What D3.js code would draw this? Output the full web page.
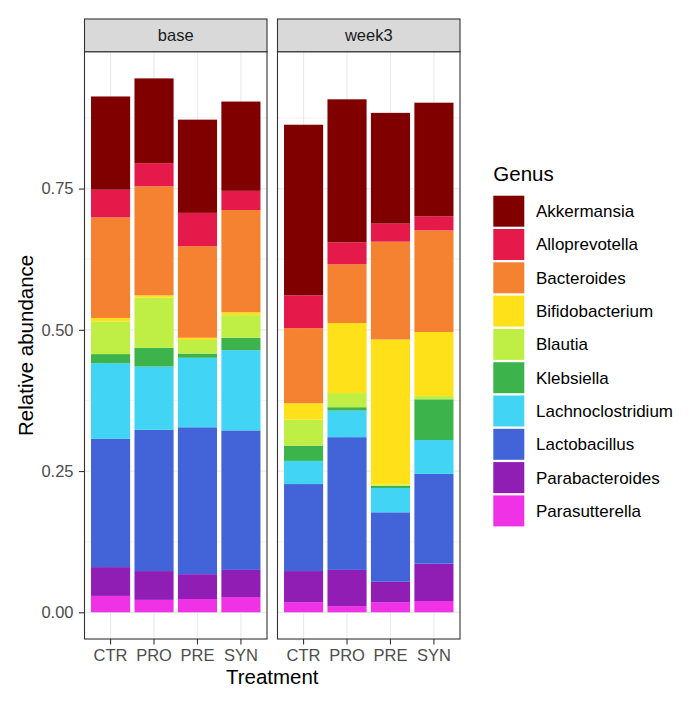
<!DOCTYPE html>
<html>
<head>
<meta charset="utf-8">
<script src="https://cdn.jsdelivr.net/npm/d3@7/dist/d3.min.js"></script>
<style>
  html, body { margin: 0; padding: 0; background: #fff; }
  svg { display: block; font-family: "Liberation Sans", Arial, Helvetica, sans-serif; }
</style>
</head>
<body>
<svg id="chart" width="692" height="703"></svg>
<script>
// ---------------- DATA ----------------
const timepoints = ["base", "week3"];
const treatments = ["CTR", "PRO", "PRE", "SYN"];
const genera = ["Akkermansia", "Alloprevotella", "Bacteroides", "Bifidobacterium", "Blautia",
                "Klebsiella", "Lachnoclostridium", "Lactobacillus", "Parabacteroides", "Parasutterella"];
const genusColors = ["#800000", "#E6194B", "#F58231", "#FFE119", "#BFEF45",
                     "#3CB44B", "#42D4F4", "#4363D8", "#911EB4", "#F032E6"];

// values: base CTR, PRO, PRE, SYN, then week3 CTR, PRO, PRE, SYN
const akkermansia       = [0.165, 0.150, 0.165, 0.158,   0.302, 0.253, 0.196, 0.201];
const alloprevotella    = [0.049, 0.041, 0.059, 0.034,   0.058, 0.039, 0.032, 0.025];
const bacteroides       = [0.178, 0.193, 0.162, 0.181,   0.133, 0.104, 0.173, 0.180];
const bifidobacterium   = [0.006, 0.004, 0.004, 0.005,   0.029, 0.124, 0.257, 0.113];
const blautia           = [0.058, 0.089, 0.024, 0.040,   0.046, 0.025, 0.002, 0.006];
const klebsiella        = [0.016, 0.033, 0.0075, 0.022,  0.027, 0.006, 0.004, 0.072];
const lachnoclostridium = [0.134, 0.112, 0.123, 0.142,   0.041, 0.047, 0.043, 0.060];
const lactobacillus     = [0.227, 0.250, 0.260, 0.247,   0.154, 0.235, 0.123, 0.159];
const parabacteroides   = [0.051, 0.051, 0.044, 0.048,   0.055, 0.064, 0.036, 0.066];
const parasutterella    = [0.029, 0.022, 0.0235, 0.027,  0.018, 0.011, 0.018, 0.020];

const yTicks = [0, 0.25, 0.5, 0.75];
const yMinorTicks = [0.125, 0.375, 0.625, 0.875];

const seriesValues = [akkermansia, alloprevotella, bacteroides, bifidobacterium, blautia,
                      klebsiella, lachnoclostridium, lactobacillus, parabacteroides, parasutterella];

// build rows per timepoint
const rows = [];
timepoints.forEach((tp, ti) => {
  treatments.forEach((tr, ri) => {
    const row = { timepoint: tp, treatment: tr };
    genera.forEach((g, gi) => { row[g] = seriesValues[gi][ti * 4 + ri]; });
    rows.push(row);
  });
});

// ---------------- LAYOUT ----------------
const svg = d3.select("#chart");
const fontSmall = 16.5, fontTitle = 20.5;
const panelTop = 51.7, panelBottom = 639, stripTop = 19;
const panels = [
  { name: "base",  x0: 84.5,  x1: 267 },
  { name: "week3", x0: 277.5, x1: 460 }
];

const totals = rows.map(r => d3.sum(genera, g => r[g]));
const maxTot = d3.max(totals);
const pad = maxTot * 0.05;
const y = d3.scaleLinear().domain([-pad, maxTot + pad]).range([panelBottom, panelTop]);

const color = d3.scaleOrdinal().domain(genera).range(genusColors);

// stack: first genus on top => stack keys in reverse
const stack = d3.stack().keys(genera.slice().reverse());

panels.forEach((p, pi) => {
  const g = svg.append("g");
  const x = d3.scaleBand().domain(treatments).range([p.x0, p.x1])
    .paddingInner(0.1).paddingOuter(0.15);

  // panel background
  g.append("rect").attr("x", p.x0).attr("y", panelTop)
    .attr("width", p.x1 - p.x0).attr("height", panelBottom - panelTop).attr("fill", "#fff");

  // minor grid
  g.selectAll(".ymin").data(yMinorTicks).enter().append("line")
    .attr("x1", p.x0).attr("x2", p.x1)
    .attr("y1", d => y(d)).attr("y2", d => y(d))
    .attr("stroke", "#EBEBEB").attr("stroke-width", 0.6);
  // major grid
  g.selectAll(".ymaj").data(yTicks).enter().append("line")
    .attr("x1", p.x0).attr("x2", p.x1)
    .attr("y1", d => y(d)).attr("y2", d => y(d))
    .attr("stroke", "#EBEBEB").attr("stroke-width", 1.2);
  g.selectAll(".xmaj").data(treatments).enter().append("line")
    .attr("x1", d => x(d) + x.bandwidth() / 2).attr("x2", d => x(d) + x.bandwidth() / 2)
    .attr("y1", panelTop).attr("y2", panelBottom)
    .attr("stroke", "#EBEBEB").attr("stroke-width", 1.2);

  // bars
  const data = rows.filter(r => r.timepoint === p.name);
  const stacked = stack(data);
  stacked.forEach(layer => {
    g.append("g").selectAll("rect").data(layer).enter().append("rect")
      .attr("x", d => x(d.data.treatment))
      .attr("width", x.bandwidth())
      .attr("y", d => y(d[1]))
      .attr("height", d => Math.max(0, y(d[0]) - y(d[1])))
      .attr("fill", color(layer.key));
  });

  // panel border
  g.append("rect").attr("x", p.x0).attr("y", panelTop)
    .attr("width", p.x1 - p.x0).attr("height", panelBottom - panelTop)
    .attr("fill", "none").attr("stroke", "#333333").attr("stroke-width", 1.1);

  // strip
  g.append("rect").attr("x", p.x0).attr("y", stripTop)
    .attr("width", p.x1 - p.x0).attr("height", panelTop - stripTop)
    .attr("fill", "#D9D9D9").attr("stroke", "#333333").attr("stroke-width", 1.1);
  g.append("text").attr("x", (p.x0 + p.x1) / 2).attr("y", (stripTop + panelTop) / 2)
    .attr("dy", "0.35em").attr("text-anchor", "middle")
    .attr("font-size", fontSmall).attr("fill", "#1A1A1A").text(p.name);

  // x axis
  const xa = g.append("g").attr("transform", `translate(0,${panelBottom})`)
    .call(d3.axisBottom(x).tickSize(5.5).tickPadding(4.5));
  xa.select(".domain").remove();
  xa.selectAll(".tick line").attr("stroke", "#333333").attr("stroke-width", 1.1);
  xa.selectAll(".tick text").attr("font-size", fontSmall).attr("fill", "#4D4D4D")
    .attr("font-family", "Liberation Sans, Arial, sans-serif");

  // y axis on first panel
  if (pi === 0) {
    const ya = g.append("g").attr("transform", `translate(${p.x0},0)`)
      .call(d3.axisLeft(y).tickValues(yTicks).tickFormat(d3.format(".2f")).tickSize(5.5).tickPadding(5.5));
    ya.select(".domain").remove();
    ya.selectAll(".tick line").attr("stroke", "#333333").attr("stroke-width", 1.1);
    ya.selectAll(".tick text").attr("font-size", fontSmall).attr("fill", "#4D4D4D")
      .attr("font-family", "Liberation Sans, Arial, sans-serif");
  }
});

// axis titles
svg.append("text").attr("x", (panels[0].x0 + panels[1].x1) / 2).attr("y", 684.3)
  .attr("text-anchor", "middle").attr("font-size", fontTitle).attr("fill", "#000").text("Treatment");
svg.append("text")
  .attr("transform", `translate(33,${(panelTop + panelBottom) / 2}) rotate(-90)`)
  .attr("text-anchor", "middle").attr("font-size", fontTitle).attr("fill", "#000").text("Relative abundance");

// legend
const lg = svg.append("g");
lg.append("text").attr("x", 493.3).attr("y", 180.7).attr("font-size", fontTitle)
  .attr("fill", "#000").text("Genus");
const keyTop = 195.7, keyStep = 33.3, keySize = 31;
genera.forEach((gname, i) => {
  lg.append("rect").attr("x", 493.3).attr("y", keyTop + i * keyStep)
    .attr("width", keySize).attr("height", keySize).attr("fill", color(gname));
  lg.append("text").attr("x", 536).attr("y", keyTop + i * keyStep + keySize / 2)
    .attr("dy", "0.35em").attr("font-size", 17).attr("fill", "#000").text(gname);
});
</script>
</body>
</html>
